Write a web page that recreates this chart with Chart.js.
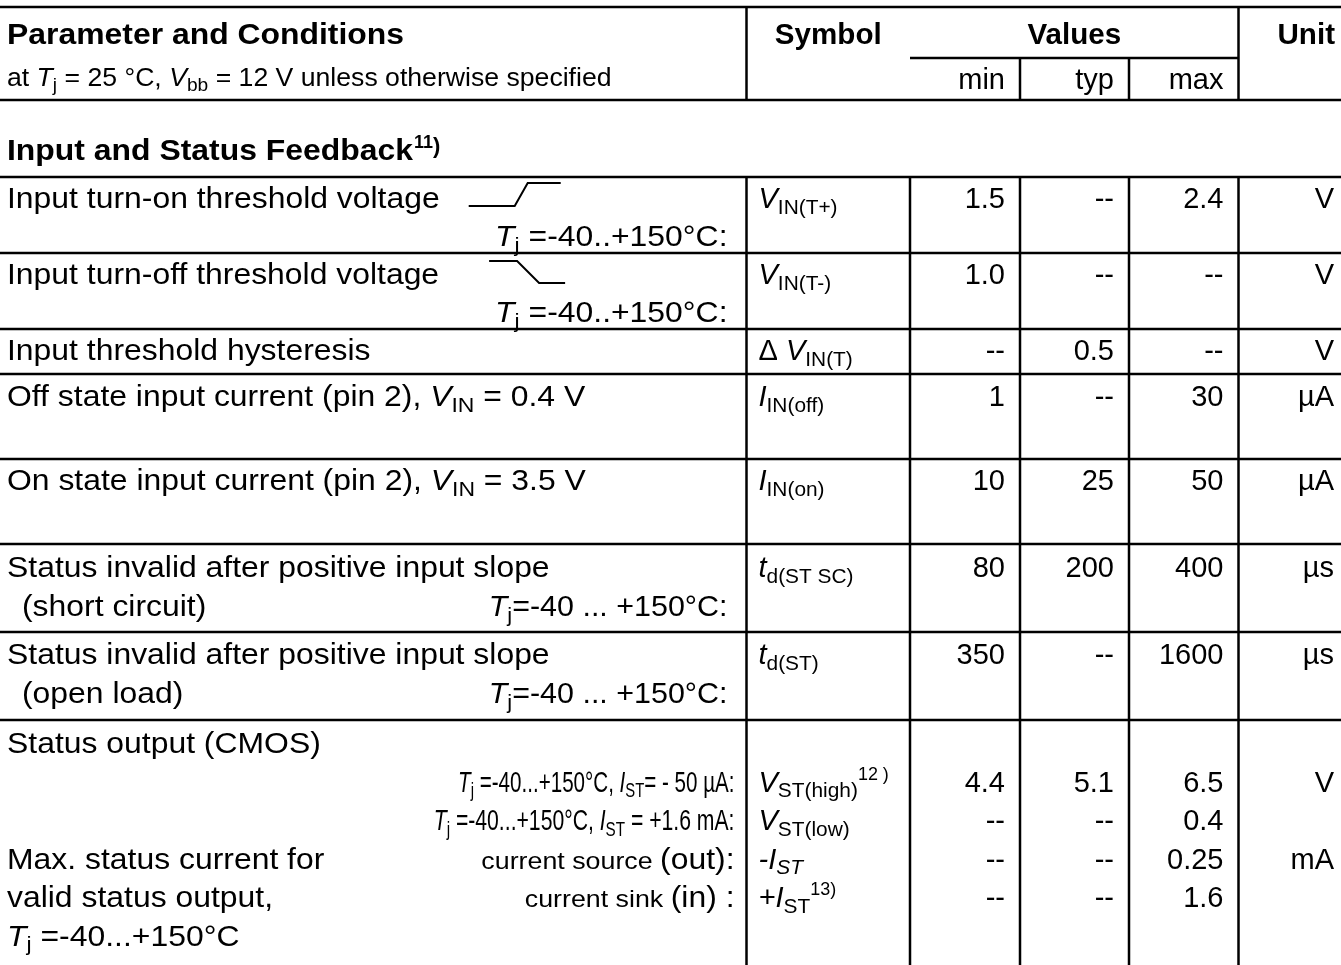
<!DOCTYPE html>
<html>
<head>
<meta charset="utf-8">
<script src="https://cdn.jsdelivr.net/npm/chart.js@4.4.1/dist/chart.umd.min.js"></script>
<style>
  html, body { margin: 0; padding: 0; background: #fff; }
  #tabla { display: block; }
</style>
</head>
<body>
<canvas id="tabla" width="1341" height="965"></canvas>
<script>
// --- datos de la tabla (markup: {i:..} cursiva, {s:..} subindice, {si:..} subindice cursiva, {u:..} superindice, {sm:..} letra chica)
const headerCols = ['Symbol', 'Values', 'Unit'];
const subHeaders = ['min', 'typ', 'max'];
const sectionTitle = 'Input and Status Feedback';

const parameters = [
    'Input turn-on threshold voltage',
    'Input turn-off threshold voltage',
    'Input threshold hysteresis',
    'Off state input current (pin 2), {i:V}{s:IN} = 0.4 V',
    'On state input current (pin 2), {i:V}{s:IN} = 3.5 V',
    'Status invalid after positive input slope',
    'Status invalid after positive input slope',
    'Status output (CMOS)'
];
// lineas extra por fila: [fila, linea, texto izquierda, texto derecha, ancho relativo derecha]
const extraLines = [
    [0, 1, '', '{i:T}{s:j} =-40..+150°C:', 1.1],
    [1, 1, '', '{i:T}{s:j} =-40..+150°C:', 1.1],
    [5, 1, '(short circuit)', '{i:T}{s:j}=-40 ... +150°C:', 1.05],
    [6, 1, '(open load)', '{i:T}{s:j}=-40 ... +150°C:', 1.05],
    [7, 1, '', '{i:T}{s:j} =-40...+150°C, {i:I}{s:ST}= - 50 µA:', 0.71],
    [7, 2, '', '{i:T}{s:j} =-40...+150°C, {i:I}{s:ST} = +1.6 mA:', 0.73],
    [7, 3, 'Max. status current for', '{sm:current source }(out):', 1.1],
    [7, 4, 'valid status output,', '{sm:current sink }(in) :', 1.1],
    [7, 5, '{i:T}{s:j} =-40...+150°C', '', 1]
];
const edgeIcons = ['rise', 'fall', null, null, null, null, null, null];

const symbols = [
    '{i:V}{s:IN(T+)}', '{i:V}{s:IN(T-)}', 'Δ {i:V}{s:IN(T)}', '{i:I}{s:IN(off)}', '{i:I}{s:IN(on)}',
    '{i:t}{s:d(ST SC)}', '{i:t}{s:d(ST)}', '{i:V}{s:ST(high)}{u:12 )}', '{i:V}{s:ST(low)}',
    '{i:-I}{si:ST}', '{i:+I}{s:ST}{u:13)}'
];
const entryRow  = [0, 1, 2, 3, 4, 5, 6, 7, 7, 7, 7];
const entryLine = [0, 0, 0, 0, 0, 0, 0, 1, 2, 3, 4];
const minValues = ['1.5', '1.0', '--', '1', '10', '80', '350', '4.4', '--', '--', '--'];
const typValues = ['--', '--', '0.5', '--', '25', '200', '--', '5.1', '--', '--', '--'];
const maxValues = ['2.4', '--', '--', '30', '50', '400', '1600', '6.5', '0.4', '0.25', '1.6'];
const units     = ['V', 'V', 'V', 'µA', 'µA', 'µs', 'µs', 'V', '', 'mA', ''];

// --- geometria
const colEdges = [0, 746.5, 910, 1020, 1129, 1238.5, 1341];
const rowEdges = [177, 253, 329, 374, 459, 544, 632, 720, 965];
const firstBase = [31, 31, 31, 32, 31, 33, 32, 33];
const rowPitch  = [38, 38, 38, 38, 38, 39, 39, 38.5];
const headTop = 7, headSub = 58, headBottom = 100;
const FS = 29;
const PSX = 1.1;   // el texto de la columna de parametros es mas ancho
const FONT = '"Liberation Sans", Arial, Helvetica, sans-serif';

const estilos = {
    n:  {k: 1,    dy: 0,     it: false},
    i:  {k: 1,    dy: 0,     it: true},
    s:  {k: 0.72, dy: 0.2,   it: false},
    si: {k: 0.72, dy: 0.2,   it: true},
    u:  {k: 0.62, dy: -0.4,  it: false},
    sm: {k: 0.84, dy: 0,     it: false}
};

function parsear(txt) {
    const re = /\{(\w+):([^}]*)\}/g;
    const out = [];
    let last = 0, m;
    while ((m = re.exec(txt))) {
        if (m.index > last) out.push({k: 'n', t: txt.slice(last, m.index)});
        out.push({k: m[1], t: m[2]});
        last = re.lastIndex;
    }
    if (last < txt.length) out.push({k: 'n', t: txt.slice(last)});
    return out;
}

function fuente(st, size, bold) {
    return (st.it ? 'italic ' : '') + (bold ? 'bold ' : '') + (size * st.k).toFixed(2) + 'px ' + FONT;
}

function texto(ctx, txt, x, y, align, size, bold, esc) {
    size = size || FS;
    esc = esc || 1;
    const segs = parsear(txt);
    let total = 0;
    segs.forEach(s => {
        ctx.font = fuente(estilos[s.k], size, bold);
        s.w = ctx.measureText(s.t).width * esc;
        total += s.w;
    });
    let cx = x;
    if (align === 'right') cx = x - total;
    else if (align === 'center') cx = x - total / 2;
    ctx.fillStyle = '#000';
    ctx.textBaseline = 'alphabetic';
    ctx.textAlign = 'left';
    segs.forEach(s => {
        const st = estilos[s.k];
        ctx.font = fuente(st, size, bold);
        ctx.save();
        ctx.translate(cx, y + st.dy * size);
        ctx.scale(esc, 1);
        ctx.fillText(s.t, 0, 0);
        ctx.restore();
        cx += s.w;
    });
    return cx;
}

const tablaPlugin = {
    id: 'tabla',
    afterDraw(chart) {
        const ctx = chart.ctx;
        const sx = v => chart.scales.x.getPixelForValue(v);
        const sy = v => chart.scales.y.getPixelForValue(v);
        ctx.save();
        ctx.strokeStyle = '#000';
        ctx.lineWidth = 2.5;
        const linea = (x1, y1, x2, y2) => {
            ctx.beginPath();
            ctx.moveTo(sx(x1), sy(y1));
            ctx.lineTo(sx(x2), sy(y2));
            ctx.stroke();
        };
        // encabezado
        linea(0, headTop, 1341, headTop);
        linea(colEdges[2], headSub, colEdges[5], headSub);
        linea(0, headBottom, 1341, headBottom);
        linea(colEdges[1], headTop, colEdges[1], headBottom);
        linea(colEdges[5], headTop, colEdges[5], headBottom);
        linea(colEdges[3], headSub, colEdges[3], headBottom);
        linea(colEdges[4], headSub, colEdges[4], headBottom);
        // cuerpo
        rowEdges.slice(0, -1).forEach(y => linea(0, y, 1341, y));
        for (let c = 1; c <= 5; c++) linea(colEdges[c], rowEdges[0], colEdges[c], rowEdges[rowEdges.length - 1]);

        // textos encabezado
        texto(ctx, 'Parameter and Conditions', sx(7), sy(44), 'left', FS, true, PSX);
        texto(ctx, headerCols[0], sx((colEdges[1] + colEdges[2]) / 2), sy(44), 'center', FS, true, 1.02);
        texto(ctx, headerCols[1], sx((colEdges[2] + colEdges[5]) / 2), sy(44), 'center', FS, true, 1.02);
        texto(ctx, headerCols[2], sx(colEdges[6] - 6), sy(44), 'right', FS, true, 1.02);
        texto(ctx, 'at {i:T}{s:j} = 25 °C, {i:V}{s:bb} = 12 V unless otherwise specified', sx(7), sy(86), 'left', 25, false, 1.065);
        subHeaders.forEach((h, i) => texto(ctx, h, sx(colEdges[i + 3] - 15), sy(89), 'right'));
        const fin = texto(ctx, sectionTitle, sx(7), sy(160), 'left', FS, true, PSX);
        const f2 = texto(ctx, '{u:11}', fin + 1, sy(160), 'left', FS, true);
        ctx.font = 'bold 22px ' + FONT;
        ctx.fillText(')', f2, sy(153));

        const base = (r, l) => rowEdges[r] + firstBase[r] + l * rowPitch[r];
        // parametros
        parameters.forEach((p, r) => {
            const xe = texto(ctx, p, sx(7), sy(base(r, 0)), 'left', FS, false, PSX);
            if (edgeIcons[r]) {
                ctx.lineWidth = 2;
                const y0 = base(r, 0);
                ctx.beginPath();
                if (edgeIcons[r] === 'rise') {
                    ctx.moveTo(xe + 29, sy(y0 - 2)); ctx.lineTo(xe + 75, sy(y0 - 2));
                    ctx.lineTo(xe + 88, sy(y0 - 25)); ctx.lineTo(xe + 121, sy(y0 - 25));
                } else {
                    ctx.moveTo(xe + 50, sy(y0 - 23)); ctx.lineTo(xe + 78, sy(y0 - 23));
                    ctx.lineTo(xe + 100, sy(y0 - 1)); ctx.lineTo(xe + 126, sy(y0 - 1));
                }
                ctx.stroke();
            }
        });
        extraLines.forEach(([r, l, izq, der, esc]) => {
            const y = sy(base(r, l));
            if (izq) texto(ctx, izq, sx(r === 5 || r === 6 ? 22 : 7), y, 'left', FS, false, PSX);
            if (der) texto(ctx, der, sx(colEdges[1] - (r === 7 ? 12 : 19)), y, 'right', FS, false, esc);
        });
        // simbolos y valores
        symbols.forEach((s, i) => {
            const y = sy(base(entryRow[i], entryLine[i]));
            texto(ctx, s, sx(colEdges[1] + 12), y, 'left');
            texto(ctx, minValues[i], sx(colEdges[3] - 15), y, 'right');
            texto(ctx, typValues[i], sx(colEdges[4] - 15), y, 'right');
            texto(ctx, maxValues[i], sx(colEdges[5] - 15), y, 'right');
            if (units[i]) texto(ctx, units[i], sx(colEdges[6] - 7), y, 'right');
        });
        ctx.restore();
    }
};

new Chart(document.getElementById('tabla'), {
    type: 'scatter',
    data: {datasets: []},
    options: {
        responsive: false,
        animation: false,
        events: [],
        layout: {padding: 0},
        plugins: {legend: {display: false}, tooltip: {enabled: false}},
        scales: {
            x: {type: 'linear', min: 0, max: 1341, display: false},
            y: {type: 'linear', min: 0, max: 965, reverse: true, display: false}
        }
    },
    plugins: [tablaPlugin]
});
</script>
</body>
</html>
